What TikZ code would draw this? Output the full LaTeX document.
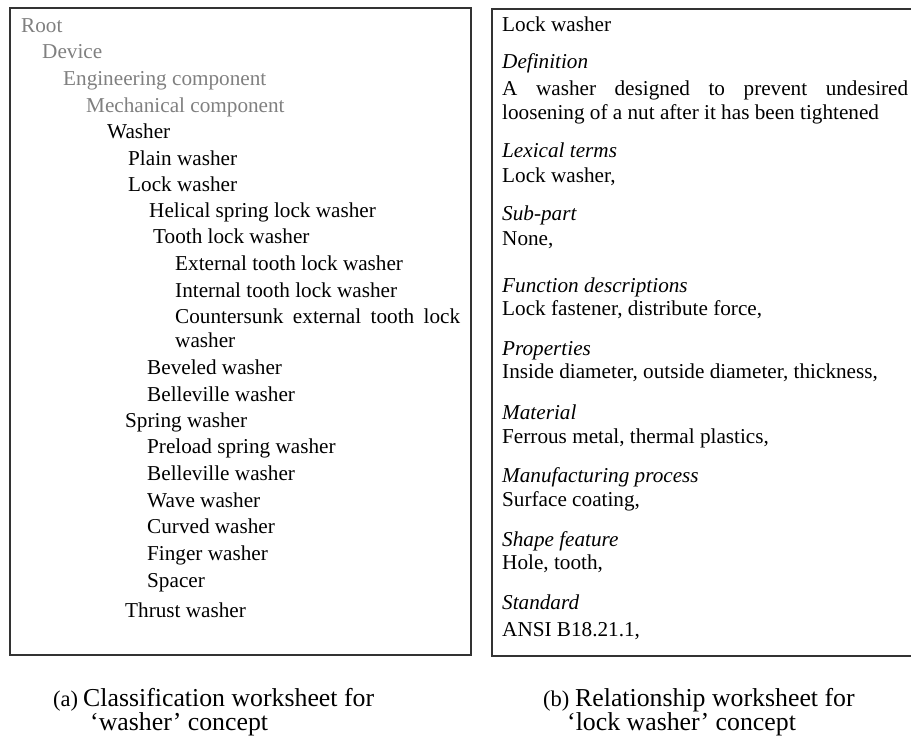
\documentclass[tikz,border=0pt]{standalone}
\usepackage{fontspec}
\setmainfont{Liberation Serif}
\tikzstyle{ent}=[anchor=base west, inner sep=0pt, font=\fontsize{21.2}{25}\selectfont]
\tikzstyle{upper}=[style=ent, text=black!50]
\tikzstyle{hd}=[style=ent, font=\fontsize{21.2}{25}\selectfont\itshape]
\tikzstyle{captext}=[anchor=base west, inner sep=0pt, font=\fontsize{25.8}{28}\selectfont]
\tikzstyle{tag}=[anchor=base west, inner sep=0pt, font=\fontsize{22.5}{24}\selectfont]
\tikzstyle{sheet}=[draw=black!80, line width=1.6pt]

\begin{document}
\begin{tikzpicture}[x=1pt, y=-1pt]
		\useasboundingbox (0,0) rectangle (911,744);
		\clip (0,0) rectangle (911,744);

		\draw [style=sheet] (10,8) rectangle (471,655);
		\draw [style=sheet] (492,9) rectangle (940,656);

		\node [style=upper] (10) at (21,32) {Root};
		\node [style=upper] (11) at (42,58) {Device};
		\node [style=upper] (12) at (63,85) {Engineering component};
		\node [style=upper] (13) at (86,112) {Mechanical component};
		\node [style=ent] (14) at (107,138) {Washer};
		\node [style=ent] (15) at (128,165) {Plain washer};
		\node [style=ent] (16) at (128,191) {Lock washer};
		\node [style=ent] (17) at (149,217) {Helical spring lock washer};
		\node [style=ent] (18) at (153,243) {Tooth lock washer};
		\node [style=ent] (19) at (175,270) {External tooth lock washer};
		\node [style=ent] (20) at (175,297) {Internal tooth lock washer};
		\node [style=ent] (21) at (175,323) {\makebox[285pt][s]{Countersunk external tooth lock}};
		\node [style=ent] (22) at (175,347) {washer};
		\node [style=ent] (23) at (147,374) {Beveled washer};
		\node [style=ent] (24) at (147,401) {Belleville washer};
		\node [style=ent] (25) at (125,427) {Spring washer};
		\node [style=ent] (26) at (147,453) {Preload spring washer};
		\node [style=ent] (27) at (147,480) {Belleville washer};
		\node [style=ent] (28) at (147,507) {Wave washer};
		\node [style=ent] (29) at (147,533) {Curved washer};
		\node [style=ent] (30) at (147,560) {Finger washer};
		\node [style=ent] (31) at (147,587) {Spacer};
		\node [style=ent] (32) at (125,617) {Thrust washer};

		\node [style=ent] (40) at (502,31) {Lock washer};
		\node [style=hd] (41) at (502,68) {Definition};
		\node [style=ent] (42) at (502,95) {\makebox[406pt][s]{A washer designed to prevent undesired}};
		\node [style=ent] (43) at (502,119) {loosening of a nut after it has been tightened};
		\node [style=hd] (44) at (502,157) {Lexical terms};
		\node [style=ent] (45) at (502,182) {Lock washer,};
		\node [style=hd] (46) at (502,220) {Sub-part};
		\node [style=ent] (47) at (502,245) {None,};
		\node [style=hd] (48) at (502,292) {Function descriptions};
		\node [style=ent] (49) at (502,315) {Lock fastener, distribute force,};
		\node [style=hd] (50) at (502,355) {Properties};
		\node [style=ent] (51) at (502,378) {Inside diameter, outside diameter, thickness,};
		\node [style=hd] (52) at (502,419) {Material};
		\node [style=ent] (53) at (502,443) {Ferrous metal, thermal plastics,};
		\node [style=hd] (54) at (502,482) {Manufacturing process};
		\node [style=ent] (55) at (502,506) {Surface coating,};
		\node [style=hd] (56) at (502,546) {Shape feature};
		\node [style=ent] (57) at (502,569) {Hole, tooth,};
		\node [style=hd] (58) at (502,609) {Standard};
		\node [style=ent] (59) at (502,636) {ANSI B18.21.1,};

		\node [style=tag] (-1) at (53,706) {(a)};
		\node [style=captext] (-2) at (83,706) {Classification worksheet for};
		\node [style=captext] (-3) at (90,730) {`washer' concept};

		\node [style=tag] (-4) at (543,706) {(b)};
		\node [style=captext] (-5) at (575,706) {Relationship worksheet for};
		\node [style=captext] (-6) at (567,730) {`lock washer' concept};
	\end{tikzpicture}
\end{document}
